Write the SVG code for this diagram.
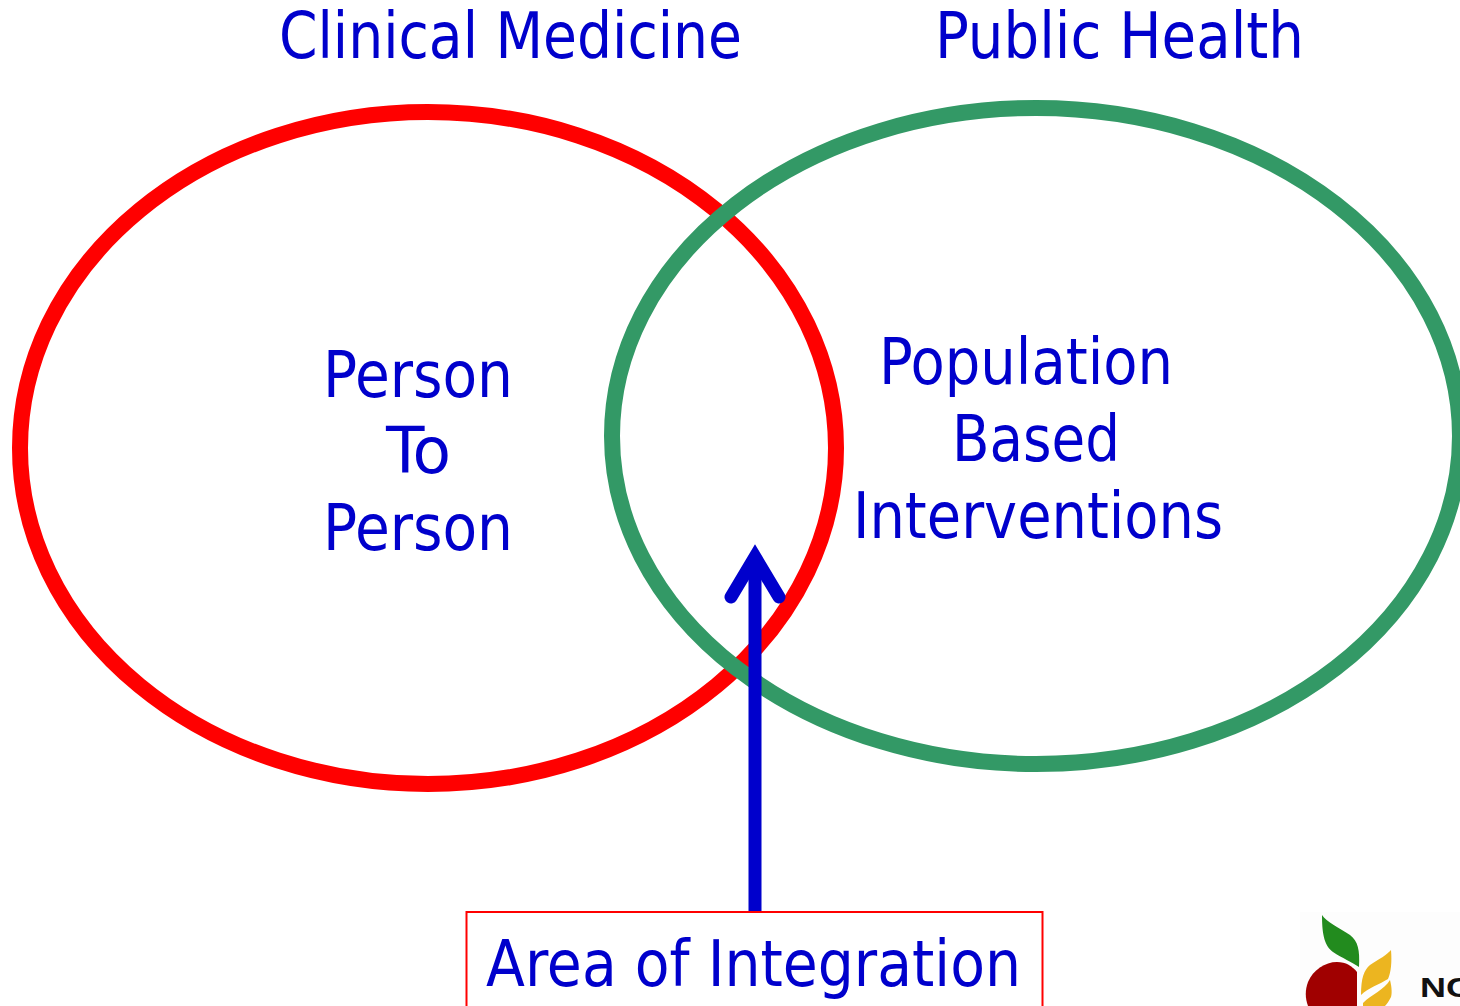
<svg xmlns="http://www.w3.org/2000/svg" width="1460" height="1006" viewBox="0 0 1460 1006">
<style>
text{font-family:"DejaVu Sans Condensed","DejaVu Sans",sans-serif;font-size:64px;fill:#0000cc}
.ring{fill:none;stroke-width:16}
.arrow{fill:none;stroke:#0000cc;stroke-width:13}
</style>
<rect width="1460" height="1006" fill="#fff"/>
<g id="title-clinical"><text x="279" y="58" textLength="463" lengthAdjust="spacingAndGlyphs">Clinical Medicine</text></g>
<g id="title-public"><text x="935" y="58" textLength="369" lengthAdjust="spacingAndGlyphs">Public Health</text></g>
<g id="clinical-circle"><ellipse class="ring" cx="428" cy="448" rx="408" ry="336" stroke="#ff0000"/></g>
<g id="public-circle"><ellipse class="ring" cx="1036" cy="436" rx="424" ry="328" stroke="#339966"/></g>
<g id="person-label">
<text x="323" y="397" textLength="190" lengthAdjust="spacingAndGlyphs">Person</text>
<text x="386" y="473" textLength="65" lengthAdjust="spacingAndGlyphs">To</text>
<text x="323" y="550" textLength="190" lengthAdjust="spacingAndGlyphs">Person</text>
</g>
<g id="population-label">
<text x="879" y="384" textLength="294" lengthAdjust="spacingAndGlyphs">Population</text>
<text x="952" y="461" textLength="168" lengthAdjust="spacingAndGlyphs">Based</text>
<text x="853" y="538" textLength="370" lengthAdjust="spacingAndGlyphs">Interventions</text>
</g>
<g id="connectors">
<path class="arrow" d="M755 912V557"/>
<path class="arrow" stroke-linecap="round" stroke-linejoin="miter" stroke-miterlimit="10" d="M731 597L755 557L779 597"/>
</g>
<g id="integration-box">
<rect x="466.5" y="912" width="576" height="110" fill="#fff" stroke="#ff0000" stroke-width="2"/>
<text x="486" y="986" textLength="535" lengthAdjust="spacingAndGlyphs">Area of Integration</text>
</g>
<g id="logo">
<rect x="1300" y="912" width="160" height="94" fill="#fdfdfd"/>
<path d="M1322 915C1326 922 1340 928 1350 935C1358 941 1360 950 1359 967C1352 962 1342 958 1333 952C1325 946 1322 936 1322 915Z" fill="#228b1e"/>
<path d="M1337 962C1346 962 1352 966 1357 972V1006H1308C1305 998 1305 990 1308 982C1313 970 1325 962 1337 962Z" fill="#a00000"/>
<path d="M1391 950C1388 954 1378 960 1370 965C1364 970 1361 978 1361 995C1368 988 1380 984 1388 979C1391 972 1392 962 1391 950Z" fill="#ecb520"/>
<path d="M1363 1003C1372 994 1384 990 1390 980C1392 988 1392 994 1391 997C1389 1001 1387 1004 1385 1006H1363Z" fill="#ecb520"/>
<text x="1420" y="997" style="font-family:'Liberation Sans',sans-serif;font-size:28px;font-weight:700;fill:#111" textLength="52" lengthAdjust="spacingAndGlyphs">NC</text>
</g>
</svg>
